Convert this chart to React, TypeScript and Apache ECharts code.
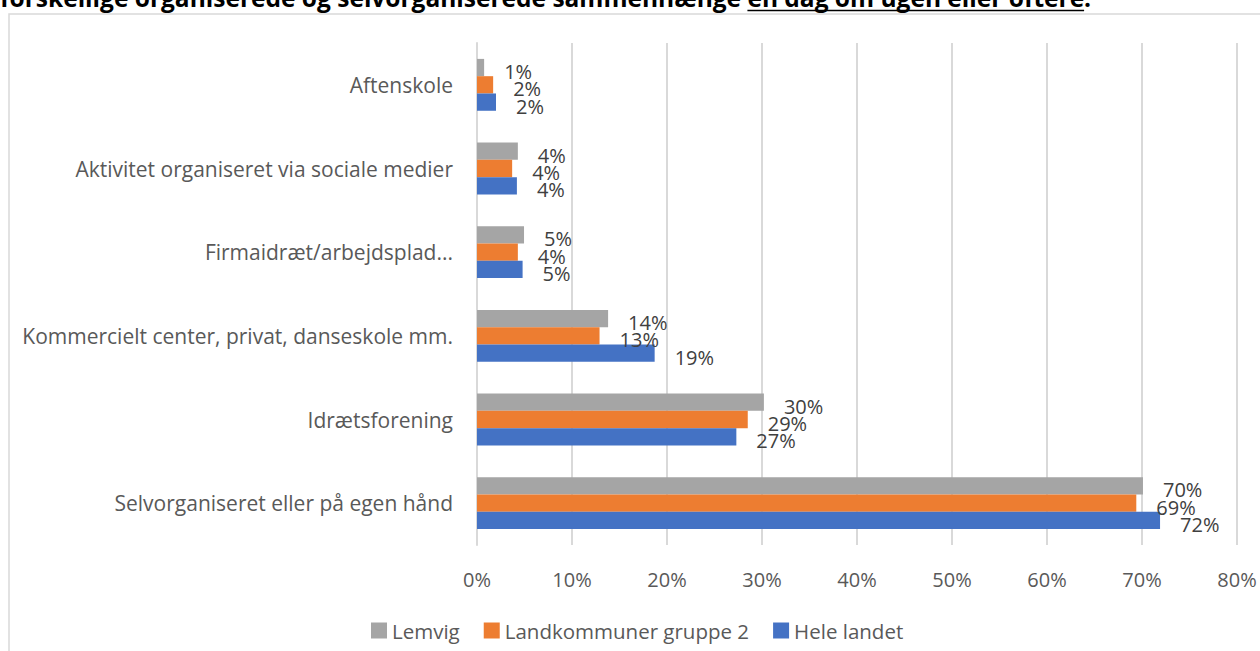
import React, { useEffect, useRef } from "react";
import * as echarts from "echarts";

const categories = [
  "Selvorganiseret eller på egen hånd",
  "Idrætsforening",
  "Kommercielt center, privat, danseskole mm.",
  "Firmaidræt/arbejdsplad...",
  "Aktivitet organiseret via sociale medier",
  "Aftenskole",
];
const heleLandet = [71.9, 27.3, 18.7, 4.8, 4.2, 2.0];
const landkommuner = [69.4, 28.5, 12.9, 4.3, 3.7, 1.7];
const lemvig = [70.1, 30.2, 13.8, 4.95, 4.3, 0.75];
const xTicks = [0, 10, 20, 30, 40, 50, 60, 70, 80];
const titleMain = "forskellige organiserede og selvorganiserede sammenhænge ";
const titleUnderlined = "en dag om ugen eller oftere";
const titleEnd = ".";

const FONT = "'Open Sans', 'Noto Sans', sans-serif";

export default function App() {
  const ref = useRef<HTMLDivElement>(null);
  useEffect(() => {
    if (!ref.current) return;
    const chart = echarts.init(ref.current, null, { renderer: "svg" });
    const TS = 24.5;
    const titleFont = `bold ${TS}px ${FONT}`;
    const cv = document.createElement("canvas").getContext("2d")!;
    cv.font = `bold ${TS}px 'Open Sans'`;
    const w1 = cv.measureText(titleMain).width;
    const w2 = cv.measureText(titleUnderlined).width;
    const mkSeries = (name: string, data: number[], color: string) => ({
      name,
      type: "bar",
      data,
      barGap: "0%",
      barCategoryGap: "38%",
      itemStyle: { color },
      label: {
        show: true,
        position: "right",
        distance: 20,
        offset: [0, 4],
        color: "#404040",
        fontSize: 20,
        fontFamily: FONT,
        formatter: (p: any) => Math.round(p.value) + "%",
      },
    });
    chart.setOption({
      animation: false,
      textStyle: { fontFamily: FONT },
      grid: { left: 477, right: 23, top: 43, bottom: 106, containLabel: false },
      legend: {
        data: ["Lemvig", "Landkommuner gruppe 2", "Hele landet"],
        left: 366,
        top: 615,
        itemWidth: 16,
        itemHeight: 16,
        itemGap: 24,
        icon: "rect",
        textStyle: { color: "#595959", fontSize: 20.5, fontFamily: FONT },
      },
      xAxis: {
        type: "value",
        min: 0,
        max: 80,
        interval: 10,
        axisLabel: {
          color: "#595959",
          fontSize: 20,
          fontFamily: FONT,
          margin: 24,
          formatter: (v: number) => (xTicks.includes(v) ? v + "%" : ""),
        },
        axisLine: { show: false },
        axisTick: { show: false },
        splitLine: { lineStyle: { color: "#d9d9d9", width: 2 } },
      },
      yAxis: {
        type: "category",
        data: categories,
        axisLine: { show: true, lineStyle: { color: "#d9d9d9", width: 2 } },
        axisTick: { show: false },
        axisLabel: { color: "#595959", fontSize: 21, fontFamily: FONT, margin: 24 },
      },
      graphic: [
        {
          type: "rect",
          shape: { x: 9, y: 14, width: 1400, height: 800 },
          style: { fill: "none", stroke: "#d9d9d9", lineWidth: 1.5 },
          z: -10,
        },
        {
          type: "text",
          x: 0,
          y: 10,
          style: {
            text: titleMain,
            font: titleFont,
            fill: "#000",
            verticalAlign: "bottom",
          },
        },
        {
          type: "text",
          x: w1,
          y: 10,
          style: {
            text: titleUnderlined + titleEnd,
            font: titleFont,
            fill: "#000",
            verticalAlign: "bottom",
          },
        },
        {
          type: "line",
          shape: { x1: w1, y1: 10.5, x2: w1 + w2, y2: 10.5 },
          style: { stroke: "#000", lineWidth: 1.5 },
        },
      ],
      series: [
        mkSeries("Lemvig", lemvig, "#A5A5A5"),
        mkSeries("Landkommuner gruppe 2", landkommuner, "#ED7D31"),
        mkSeries("Hele landet", heleLandet, "#4472C4"),
      ],
    });
    return () => chart.dispose();
  }, []);
  return (
    <div
      ref={ref}
      style={{ position: "fixed", left: 0, top: 0, width: 1260, height: 651, background: "#fff" }}
    />
  );
}
